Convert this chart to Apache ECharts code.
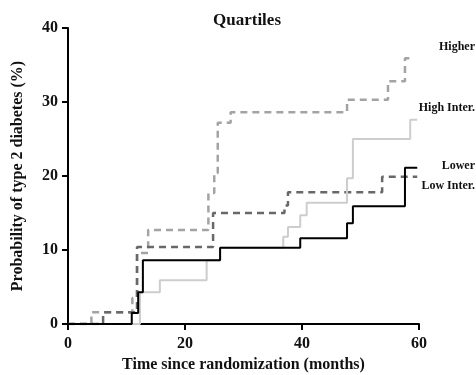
<!DOCTYPE html>
<html>
<head>
<meta charset="utf-8">
<script src="https://cdn.jsdelivr.net/npm/echarts@6/dist/echarts.min.js"></script>
<style>html,body{margin:0;padding:0;background:#fff}#c{width:476px;height:375px}</style>
</head>
<body>
<div id="c"></div>
<script>
var xTicks = [0, 20, 40, 60];
var yTicks = [0, 10, 20, 30, 40];
var seriesNames = ['Higher', 'Low Inter.', 'High Inter.', 'Lower'];

var higherT = [0, 4, 11, 11.8, 13.7, 24, 25, 25.6, 27.8, 47.7, 54.7, 57.6, 58.8];
var higherV = [0, 1.6, 3.5, 9.6, 12.7, 17.7, 20.4, 27.2, 28.6, 30.3, 32.8, 35.9, 35.9];

var lowInterT = [0, 6, 11.8, 24.8, 37, 37.6, 53.7, 59.7];
var lowInterV = [0, 1.6, 10.4, 15.0, 16.0, 17.8, 19.9, 19.9];

var highInterT = [0, 12.3, 15.7, 23.7, 26, 36.8, 37.6, 39.7, 40.8, 47.7, 48.7, 58.5, 59.7];
var highInterV = [0, 4.3, 5.9, 8.6, 10.3, 11.8, 13.1, 14.7, 16.4, 19.7, 25.0, 27.6, 27.6];

var lowerT = [0, 10.9, 12.0, 12.8, 26, 39.7, 47.7, 48.7, 57.6, 59.7];
var lowerV = [0, 1.5, 4.3, 8.6, 10.3, 11.6, 13.6, 15.9, 21.1, 21.1];

function pairs(t, v) { return t.map(function (x, i) { return [x, v[i]]; }); }

var font = '"Liberation Serif", "DejaVu Serif", serif';
var chart = echarts.init(document.getElementById('c'));
chart.setOption({
  animation: false,
  title: {
    text: 'Quartiles', left: 242, top: 7, textAlign: 'center',
    textStyle: { fontFamily: font, fontWeight: 'bold', fontSize: 17, color: '#111' }
  },
  grid: { left: 68, right: 57, top: 28, bottom: 51, containLabel: false, outerBoundsMode: 'none' },
  xAxis: {
    type: 'value', min: 0, max: 60, interval: 20,
    name: 'Time since randomization (months)', nameLocation: 'middle', nameGap: 30,
    nameTextStyle: { fontFamily: font, fontWeight: 'bold', fontSize: 16, color: '#111' },
    axisLine: { lineStyle: { color: '#000', width: 2 } },
    axisTick: { length: 6, lineStyle: { color: '#000', width: 2 } },
    axisLabel: { fontFamily: font, fontWeight: 'bold', fontSize: 16, color: '#111', margin: 12,
      formatter: function (v) { return xTicks.indexOf(v) >= 0 ? String(v) : ''; } },
    splitLine: { show: false }
  },
  yAxis: {
    type: 'value', min: 0, max: 40, interval: 10,
    name: 'Probability of type 2 diabetes (%)', nameLocation: 'middle', nameGap: 42,
    nameTextStyle: { fontFamily: font, fontWeight: 'bold', fontSize: 16, color: '#111' },
    axisLine: { show: true, lineStyle: { color: '#000', width: 2 } },
    axisTick: { show: true, length: 6, lineStyle: { color: '#000', width: 2 } },
    axisLabel: { fontFamily: font, fontWeight: 'bold', fontSize: 16, color: '#111', margin: 10,
      formatter: function (v) { return yTicks.indexOf(v) >= 0 ? String(v) : ''; } },
    splitLine: { show: false }
  },
  graphic: [
    { type: 'text', right: 1, top: 41, style: { text: 'Higher', font: 'bold 12px ' + font, fill: '#111' } },
    { type: 'text', right: 1, top: 102, style: { text: 'High Inter.', font: 'bold 12px ' + font, fill: '#111' } },
    { type: 'text', right: 1, top: 160, style: { text: 'Lower', font: 'bold 12px ' + font, fill: '#111' } },
    { type: 'text', right: 1, top: 180, style: { text: 'Low Inter.', font: 'bold 12px ' + font, fill: '#111' } }
  ],
  series: [
    { name: seriesNames[0], type: 'line', step: 'end', symbol: 'none', data: pairs(higherT, higherV),
      lineStyle: { color: '#a3a3a3', width: 2.5, type: [7, 5] } },
    { name: seriesNames[1], type: 'line', step: 'end', symbol: 'none', data: pairs(lowInterT, lowInterV),
      lineStyle: { color: '#686868', width: 2.5, type: [7, 5] } },
    { name: seriesNames[2], type: 'line', step: 'end', symbol: 'none', data: pairs(highInterT, highInterV),
      lineStyle: { color: '#cdcdcd', width: 2 } },
    { name: seriesNames[3], type: 'line', step: 'end', symbol: 'none', data: pairs(lowerT, lowerV),
      lineStyle: { color: '#000', width: 2 } }
  ]
});
</script>
</body>
</html>
